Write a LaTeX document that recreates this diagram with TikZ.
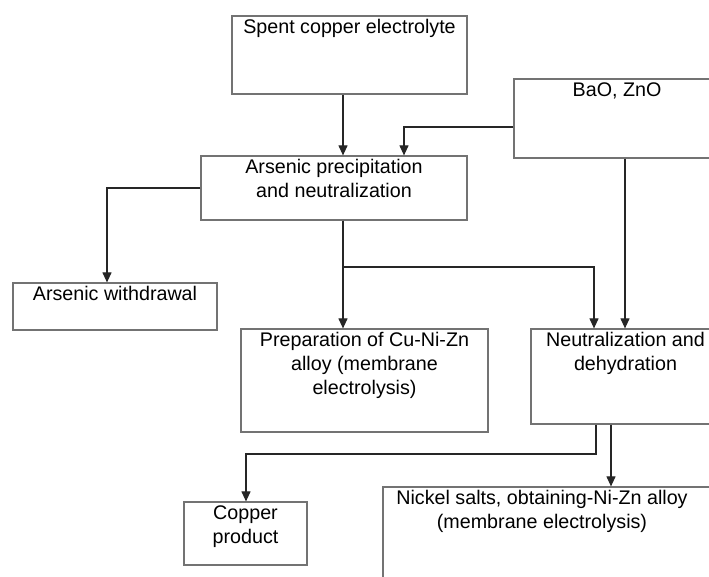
\documentclass[tikz,border=0pt]{standalone}
\usepackage{fontspec}
\setmainfont{Liberation Sans}
\usepackage{tikz}
\usetikzlibrary{arrows.meta}

\begin{document}
\begin{tikzpicture}[x=1pt,y=-1pt,
  box/.style={draw=black!55, line width=1.2pt, fill=white, inner sep=0pt},
  lbl/.style={anchor=north, align=center, inner sep=0pt, yshift=-4pt,
    font=\fontsize{19.7}{24}\selectfont},
  arr/.style={draw=black!85, line width=1.1pt, -{Triangle[length=10pt,width=9pt]}}]
\useasboundingbox (0,0) rectangle (709,576);
\clip (0,0) rectangle (709,576);

\node[box, minimum width=235, minimum height=78, label={[lbl]north:Spent copper electrolyte}] (spent) at (349.5,55) {};
\node[box, minimum width=266, minimum height=64, label={[lbl]north:Arsenic precipitation\\and neutralization}] (precip) at (334,188) {};
\node[box, minimum width=206, minimum height=79, label={[lbl]north:BaO, ZnO}] (oxides) at (617,118.5) {};
\node[box, minimum width=204, minimum height=47, label={[lbl]north:Arsenic withdrawal}] (withdraw) at (115,306.5) {};
\node[box, minimum width=247, minimum height=103, label={[lbl]north:Preparation of Cu-Ni-Zn\\alloy (membrane\\electrolysis)}] (alloy) at (364.5,380.5) {};
\node[box, minimum width=189, minimum height=95, label={[lbl]north:Neutralization and\\dehydration}] (neutr) at (625.5,376.5) {};
\node[box, minimum width=123, minimum height=63, label={[lbl]north:Copper\\product}] (copper) at (245.5,533.5) {};
\node[box, minimum width=337, minimum height=113, label={[lbl,xshift=-9.5pt]north:Nickel salts, obtaining-Ni-Zn alloy\\(membrane electrolysis)}] (nickel) at (551.5,543.5) {};

\coordinate (colA) at (343,0);
\coordinate (colB) at (404,0);
\coordinate (colW) at (107,0);
\coordinate (colN) at (594,0);
\coordinate (colO) at (625,0);
\coordinate (colM) at (596,0);
\coordinate (colK) at (611,0);
\coordinate (colC) at (246,0);
\coordinate (rowO) at (0,127);
\coordinate (rowB) at (0,267);
\coordinate (rowC) at (0,454);

\draw[arr] (spent.south -| colA) -- (precip.north -| colA);
\draw[arr] (oxides.west |- rowO) -| (precip.north -| colB);
\draw[arr] (precip.west) -| (withdraw.north -| colW);
\draw[arr] (precip.south -| colA) -- (alloy.north -| colA);
\draw[arr] (precip.south -| colA) -- (colA |- rowB) -| (neutr.north -| colN);
\draw[arr] (oxides.south -| colO) -- (neutr.north -| colO);
\draw[arr] (neutr.south -| colM) -- (colM |- rowC) -| (copper.north -| colC);
\draw[arr] (neutr.south -| colK) -- (nickel.north -| colK);
\end{tikzpicture}
\end{document}
